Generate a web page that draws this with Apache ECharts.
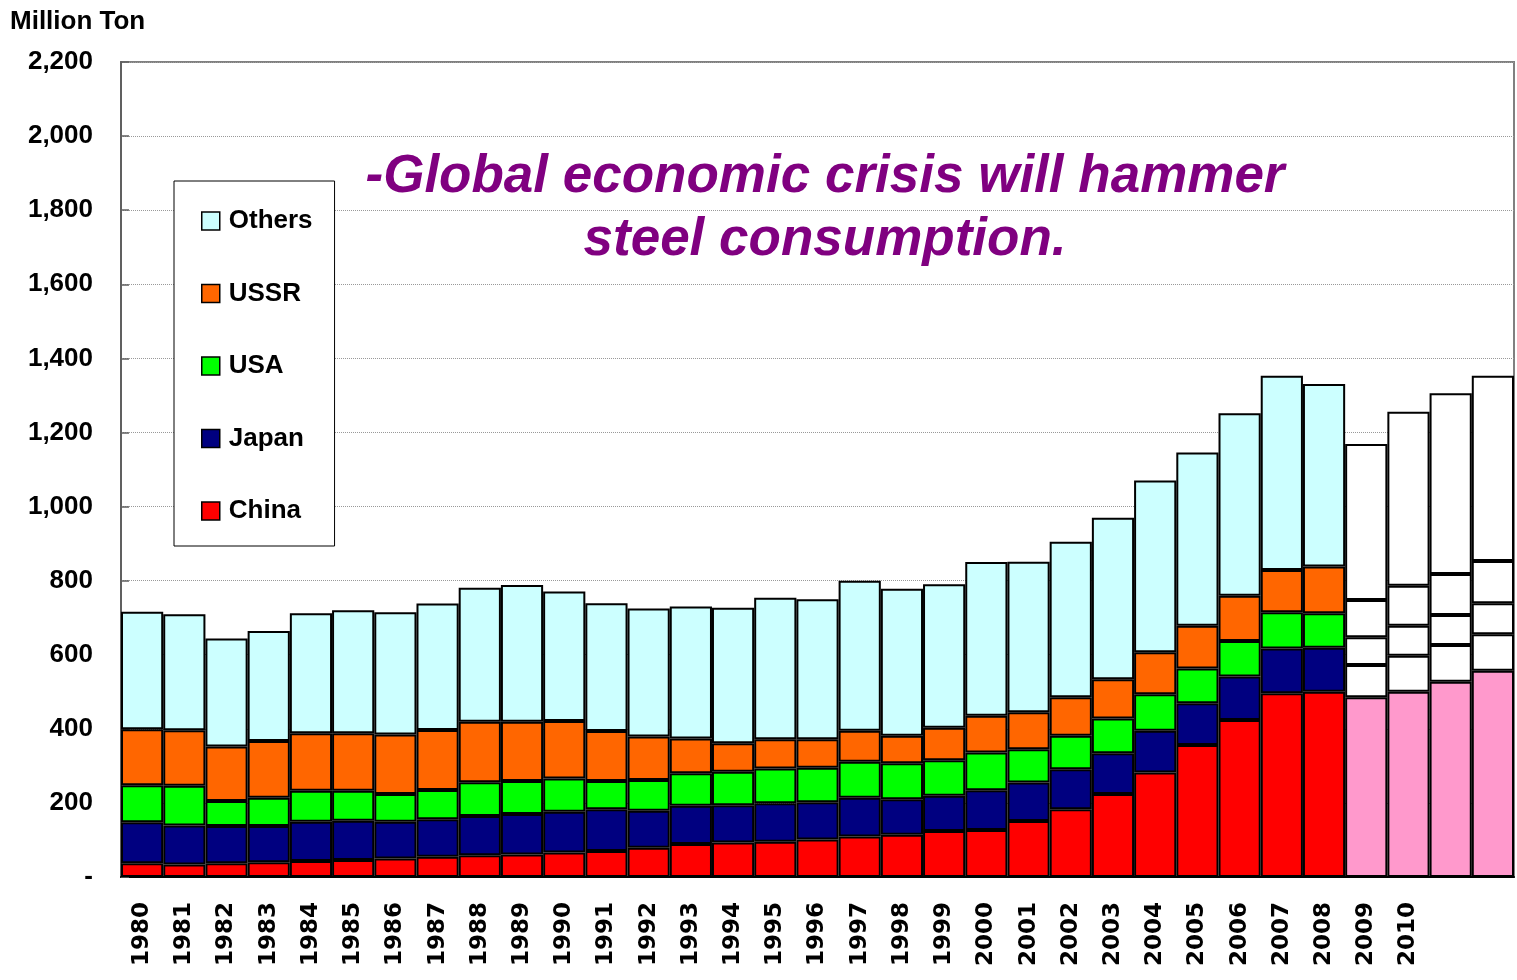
<!DOCTYPE html>
<html>
<head>
<meta charset="utf-8">
<script src="https://cdn.jsdelivr.net/npm/echarts@6/dist/echarts.min.js"></script>
<style>
html,body{margin:0;padding:0;background:#fff;}
#chart{width:1517px;height:980px;}
</style>
</head>
<body>
<div id="chart"></div>
<script>
const categories = ['1980','1981','1982','1983','1984','1985','1986','1987','1988','1989','1990','1991','1992','1993','1994','1995','1996','1997','1998','1999','2000','2001','2002','2003','2004','2005','2006','2007','2008','2009','2010','2011','2012'];
const tickLabels = ['1980','1981','1982','1983','1984','1985','1986','1987','1988','1989','1990','1991','1992','1993','1994','1995','1996','1997','1998','1999','2000','2001','2002','2003','2004','2005','2006','2007','2008','2009','2010','',''];
const forecastStart = 29;
const china  = [37,34,37,40,43,46,50,55,59,61,66,70,79,89,93,95,101,109,114,124,127,151,183,224,282,356,424,496,500,485,500,527,557];
const japan  = [111,105,101,98,106,106,99,101,106,109,110,113,100,103,101,104,101,105,96,95,107,104,108,110,113,113,117,121,119,87,97,99,98];
const usa    = [100,107,67,76,84,81,75,79,91,89,90,76,83,88,90,94,93,97,97,96,102,90,90,94,98,94,96,98,93,75,81,81,84];
const ussr   = [151,150,147,153,155,155,161,162,163,160,155,135,117,94,77,79,77,84,74,88,99,100,104,106,114,115,122,114,126,101,108,111,114];
const others = [317,313,292,297,324,332,330,341,362,369,350,345,346,356,366,382,378,405,397,387,415,406,420,436,463,468,493,524,493,421,470,488,500];
const yTicks = [0,200,400,600,800,1000,1200,1400,1600,1800,2000,2200];

const FONT = '"Liberation Sans", Arial, sans-serif';
const seriesDefs = [
  {name:'China', data:china, color:'#FF0000', fcColor:'#FF99CC'},
  {name:'Japan', data:japan, color:'#000080', fcColor:'#FFFFFF'},
  {name:'USA', data:usa, color:'#00FF00', fcColor:'#FFFFFF'},
  {name:'USSR', data:ussr, color:'#FF6600', fcColor:'#FFFFFF'},
  {name:'Others', data:others, color:'#CCFFFF', fcColor:'#FFFFFF'}
];

const chart = echarts.init(document.getElementById('chart'));
chart.setOption({
  animation:false,
  backgroundColor:'#fff',
  grid:{left:121,right:3,top:62,bottom:103,show:true,borderColor:'#808080',borderWidth:2,backgroundColor:'transparent'},
  graphic:[
    {type:'text',left:10,top:9,style:{text:'Million Ton',font:'bold 26px '+FONT,fill:'#000'}},
    {type:'text',x:825,y:146,z:10,style:{text:'-Global economic crisis will hammer\nsteel consumption.',font:'italic bold 53px '+FONT,fill:'#800080',textAlign:'center',textVerticalAlign:'top',lineHeight:63}}
  ],
  legend:{
    orient:'vertical',left:174,top:181,
    data:['Others','USSR','USA','Japan','China'],
    backgroundColor:'#fff',borderColor:'#000',borderWidth:1,
    padding:[27,22,22,27],itemGap:46.5,itemWidth:18,itemHeight:18,
    icon:'rect',
    itemStyle:{borderColor:'#000',borderWidth:1.5},
    textStyle:{fontFamily:FONT,fontWeight:'bold',fontSize:26,color:'#000',padding:[0,0,0,4]},
    z:20
  },
  xAxis:{
    type:'category',data:categories,
    axisLine:{lineStyle:{color:'#000',width:2}},
    axisTick:{show:false},
    axisLabel:{interval:0,rotate:90,margin:25,fontFamily:'"DejaVu Sans", sans-serif',fontWeight:'bold',fontSize:23,color:'#000',
      formatter:(v,i)=>tickLabels[i]}
  },
  yAxis:{
    type:'value',min:yTicks[0],max:yTicks[yTicks.length-1],interval:200,
    axisLine:{show:true,lineStyle:{color:'#606060',width:2}},
    axisTick:{show:true,inside:true,length:8,lineStyle:{color:'#606060',width:1.5}},
    splitLine:{show:true,lineStyle:{color:'#999',type:'dotted',width:1}},
    axisLabel:{margin:28,fontFamily:FONT,fontWeight:'bold',fontSize:26,color:'#000',
      formatter:v=>v===0?'-':v.toLocaleString('en-US')}
  },
  series:seriesDefs.map(s=>({
    name:s.name,type:'bar',stack:'total',barCategoryGap:'0%',
    itemStyle:{color:s.color,borderColor:'#000',borderWidth:2},
    data:s.data.map((v,i)=>i>=forecastStart?{value:v,itemStyle:{color:s.fcColor}}:v)
  }))
});
</script>
</body>
</html>
